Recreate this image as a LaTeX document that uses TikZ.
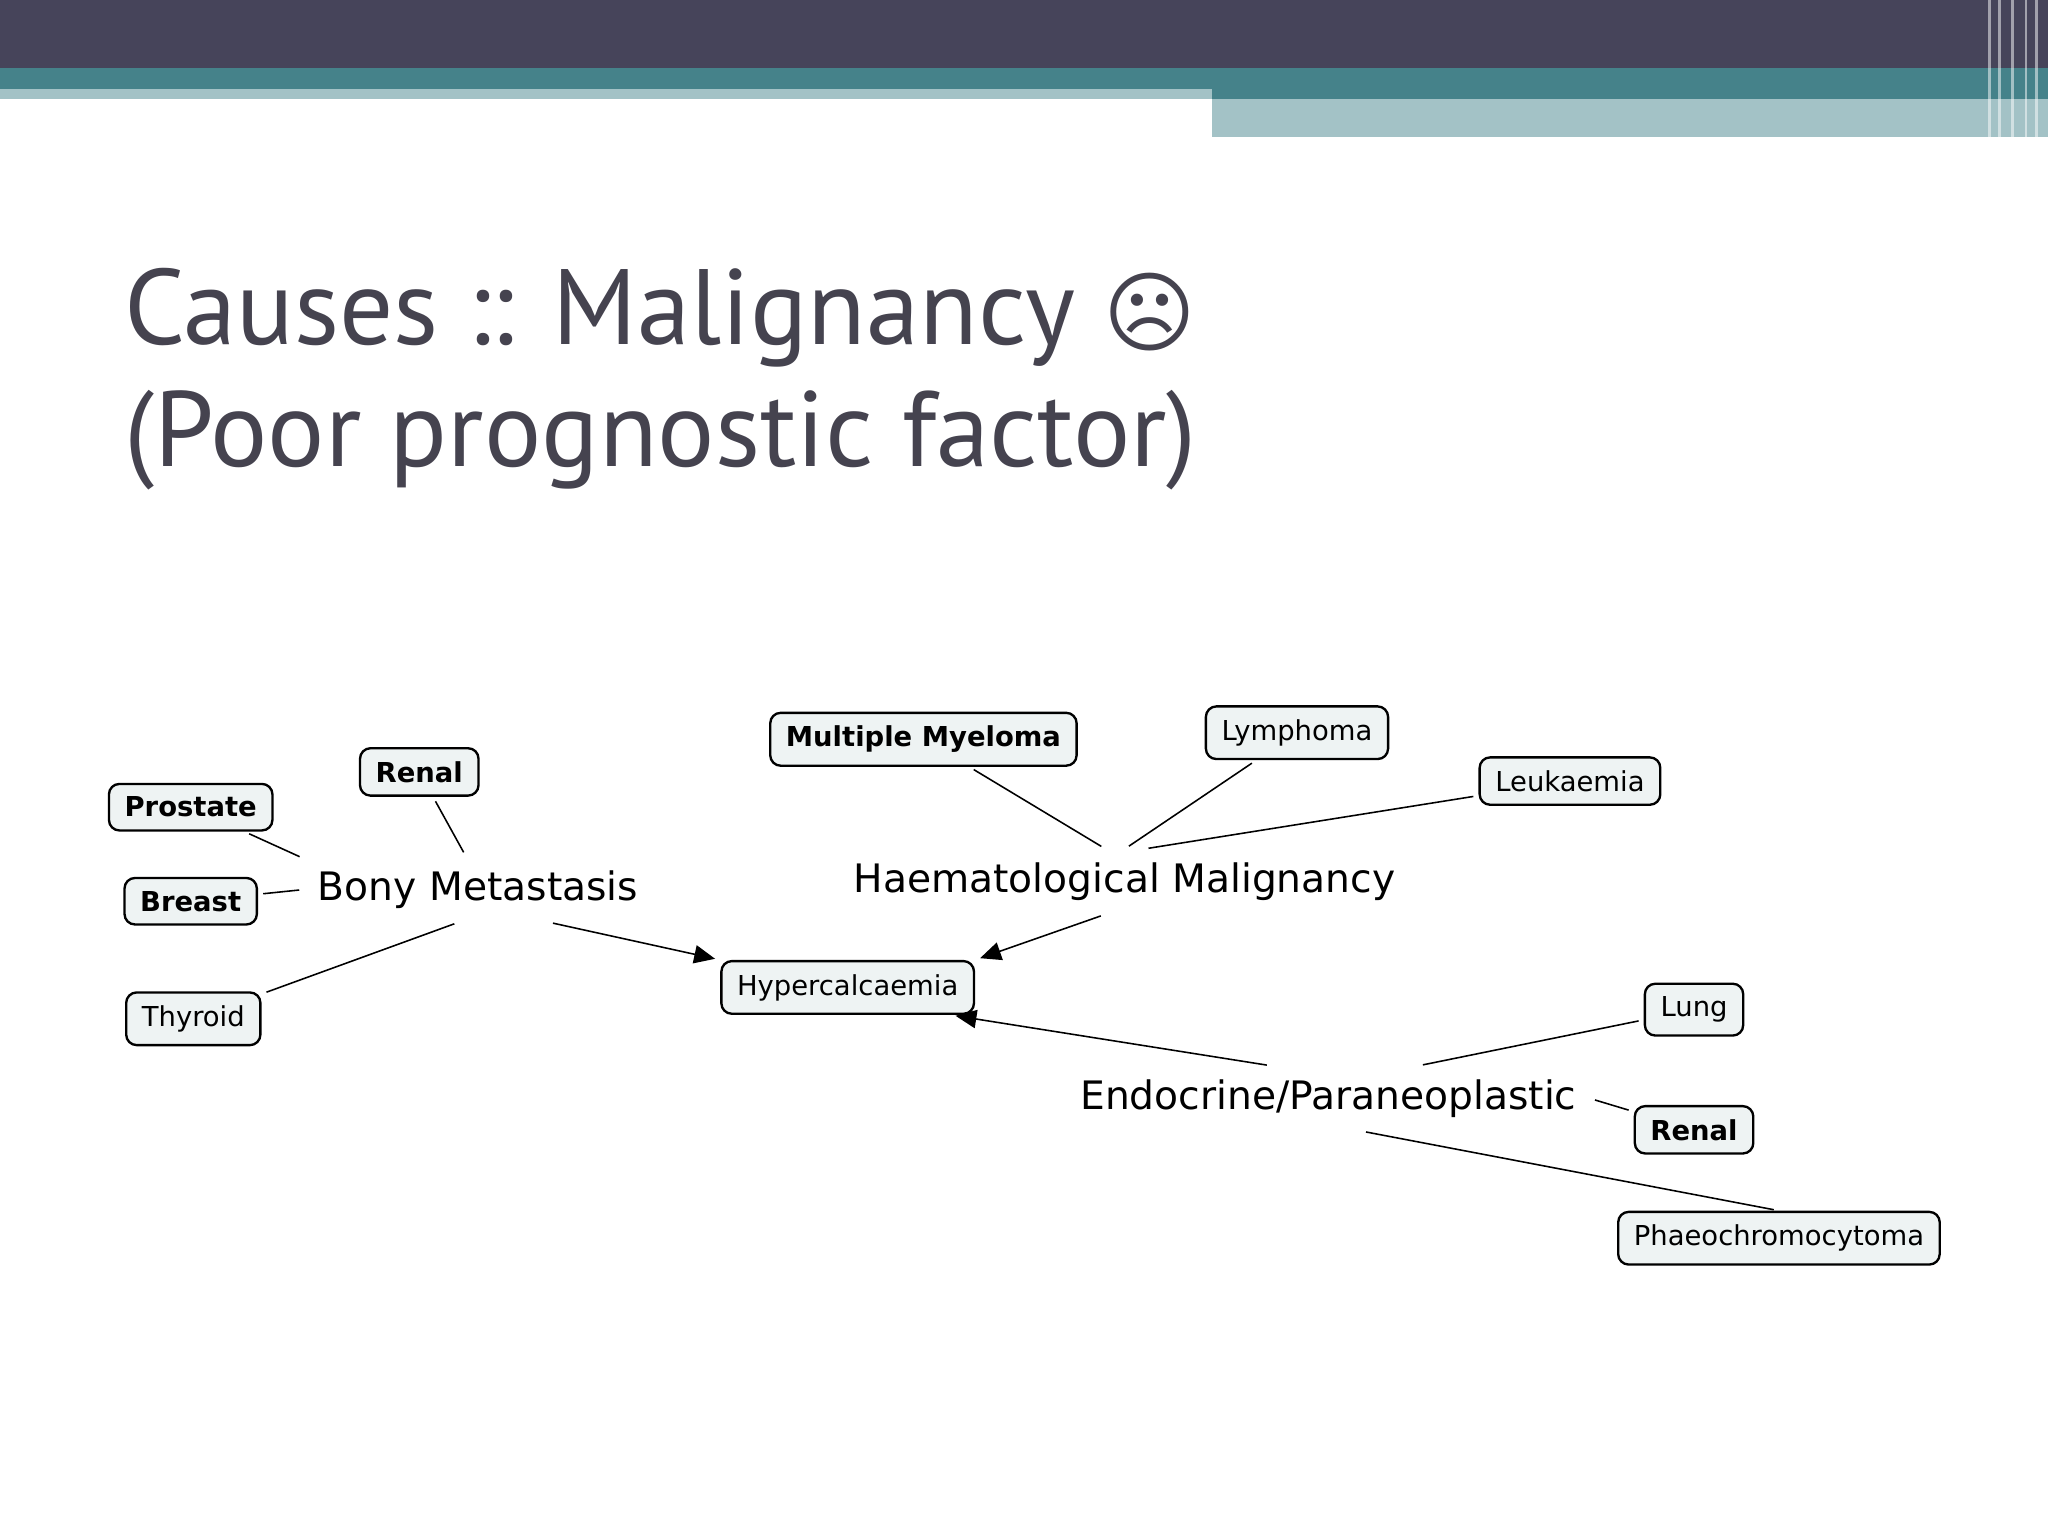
\documentclass[tikz,border=0pt]{standalone}
\usepackage{fontspec}
\setmainfont{DejaVu Sans}
\newfontfamily\titlefont{PT Sans}
\newfontfamily\smiley{DejaVu Sans}
\usetikzlibrary{arrows.meta}
\definecolor{hdark}{HTML}{46445A}
\definecolor{hteal}{HTML}{45828A}
\definecolor{hlight}{HTML}{A3C2C6}
\definecolor{boxfill}{HTML}{EEF3F3}
\definecolor{titlec}{HTML}{45434F}
\begin{document}
\begin{tikzpicture}[x=0.5pt,y=-0.5pt,
  box/.style={draw=black,line width=0.9pt,fill=boxfill,rounded corners=4pt,inner xsep=6pt,inner ysep=5pt,font=\fontsize{10.5}{12}\selectfont},
  bbox/.style={box,font=\fontsize{10.5}{12}\selectfont\bfseries},
  hub/.style={inner sep=5pt,font=\fontsize{15}{18}\selectfont},
  ln/.style={line width=0.6pt,shorten <=2pt,shorten >=2pt},
  arr/.style={ln,-{Triangle[length=8pt,width=7pt]}}]
\useasboundingbox (0,0) rectangle (1568,1176);
\fill[white] (0,0) rectangle (1568,1176);
\fill[hdark] (0,0) rectangle (1568,52);
\fill[hteal] (0,52) rectangle (1568,68);
\fill[hlight] (0,68) rectangle (928,76);
\fill[hteal] (928,68) rectangle (1568,76);
\fill[hlight] (928,76) rectangle (1568,105);
\foreach \x in {1522,1530,1540,1550,1558}{\fill[white,opacity=0.5] (\x,0) rectangle (\x+2,105);}
\node[anchor=north west,align=left,text=titlec,font=\titlefont\fontsize{41}{47}\selectfont] (title) at (88,198)
 {Causes :: Malignancy {\smiley\fontsize{34}{40}\selectfont ☹}\\(Poor prognostic factor)};
\node[bbox] (prostate) at (146,618) {Prostate};
\node[bbox] (renal1) at (321,591) {Renal};
\node[bbox] (breast) at (146,690) {Breast};
\node[box] (thyroid) at (148,780) {Thyroid};
\node[hub] (bony) at (366,681) {Bony Metastasis};
\node[box] (hyper) at (649,756) {Hypercalcaemia};
\node[bbox] (mm) at (707,566) {Multiple Myeloma};
\node[box] (lymph) at (993,561) {Lymphoma};
\node[box] (leuk) at (1202,598) {Leukaemia};
\node[hub] (haem) at (861,675) {Haematological Malignancy};
\node[hub] (endo) at (1017,841) {Endocrine/Paraneoplastic};
\node[box] (lung) at (1297,773) {Lung};
\node[bbox] (renal2) at (1297,865) {Renal};
\node[box] (phaeo) at (1362,948) {Phaeochromocytoma};
\draw[ln] (prostate) -- (bony.170);
\draw[ln] (renal1) -- (bony.110);
\draw[ln] (breast) -- (bony.west);
\draw[ln] (thyroid) -- (bony.-120);
\draw[arr] (bony.-25) -- (hyper.north west);
\draw[ln] (mm) -- (haem.120);
\draw[ln] (lymph) -- (haem.90);
\draw[ln] (leuk) -- (haem.60);
\draw[arr] (haem.-120) -- (hyper.north east);
\draw[arr] (endo.150) -- (hyper.-15);
\draw[ln] (lung) -- (endo.20);
\draw[ln] (renal2) -- (endo.east);
\draw[ln] (phaeo.north) -- (endo.-45);
\end{tikzpicture}
\end{document}
